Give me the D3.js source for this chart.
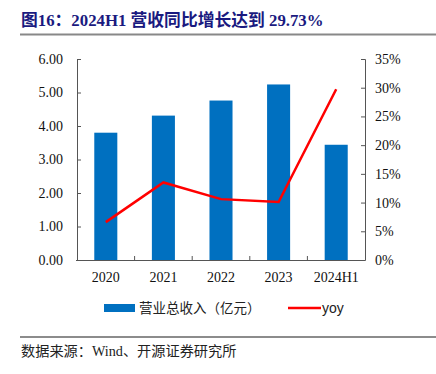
<!DOCTYPE html>
<html>
<head>
<meta charset="utf-8">
<script src="https://cdn.jsdelivr.net/npm/d3@7"></script>
<style>
  body { margin: 0; background: #fff; }
  svg { display: block; }
  .tick text { font-family: "Liberation Serif", "Times New Roman", serif; font-size: 14px; fill: #111; }
</style>
</head>
<body>
<div id="chart"></div>
<script>
// Data
const categories = ["2020", "2021", "2022", "2023", "2024H1"];
const revenue = [3.80, 4.31, 4.76, 5.24, 3.44];     // 营业总收入（亿元）
const yoy = [6.6, 13.5, 10.6, 10.1, 29.73];        // yoy, %
const leftTicks = [0, 1, 2, 3, 4, 5, 6];
const rightTicks = [0, 5, 10, 15, 20, 25, 30, 35];

const width = 436, height = 374;
const margin = { top: 59, right: 71, bottom: 114, left: 77 };

const svg = d3.select('#chart')
  .append('svg')
    .attr('width', width)
    .attr('height', height)
    .attr('viewBox', [0, 0, width, height]);

// Title and rule under it
svg.append('text')
    .attr('x', 21)
    .attr('y', 26)
    .attr('fill', '#1a1a80')
    .attr('font-family', '"Liberation Serif", "Noto Sans CJK SC", serif')
    .attr('font-weight', 'bold')
    .attr('font-size', 16.8)
    .text('图16：2024H1 营收同比增长达到 29.73%');

svg.append('line')
    .attr('x1', 20).attr('x2', width)
    .attr('y1', 34.5).attr('y2', 34.5)
    .attr('stroke', '#888')
    .attr('stroke-width', 2);

// Scales
const x = d3.scaleBand()
    .domain(categories)
    .range([margin.left, width - margin.right])
    .paddingInner(0.6)
    .paddingOuter(0.3);

const xStep = x.step();
const plotBottom = height - margin.bottom;

const yLeft = d3.scaleLinear()
    .domain([0, 6])
    .range([plotBottom, margin.top]);

const yRight = d3.scaleLinear()
    .domain([0, 35])
    .range([plotBottom, margin.top]);

// Bars
svg.append('g')
  .selectAll('rect')
  .data(revenue)
  .join('rect')
    .attr('x', (d, i) => x(categories[i]))
    .attr('y', d => yLeft(d))
    .attr('width', x.bandwidth())
    .attr('height', d => plotBottom - yLeft(d))
    .attr('fill', '#0070c0');

// Left axis
const leftAxis = svg.append('g')
    .attr('transform', `translate(${margin.left},0)`)
    .call(d3.axisLeft(yLeft).tickValues(leftTicks).tickFormat(d3.format('.2f')).tickSize(-4).tickPadding(14));
leftAxis.selectAll('path, line').attr('stroke', '#555');

// Right axis
const rightAxis = svg.append('g')
    .attr('transform', `translate(${width - margin.right},0)`)
    .call(d3.axisRight(yRight).tickValues(rightTicks).tickFormat(d => d + '%').tickSize(-4).tickPadding(10));
rightAxis.selectAll('path, line').attr('stroke', '#555');

// Bottom axis: baseline, inward ticks between categories, labels centred
const xAxisG = svg.append('g');
xAxisG.append('line')
    .attr('x1', margin.left - 1).attr('x2', width - margin.right)
    .attr('y1', plotBottom + 0.5).attr('y2', plotBottom + 0.5)
    .attr('stroke', '#555');
xAxisG.selectAll('.sep')
  .data(categories.slice(1))
  .join('line')
    .attr('class', 'sep')
    .attr('x1', d => x(d) - xStep * 0.3)
    .attr('x2', d => x(d) - xStep * 0.3)
    .attr('y1', plotBottom)
    .attr('y2', plotBottom - 4)
    .attr('stroke', '#555');
xAxisG.selectAll('.lbl')
  .data(categories)
  .join('text')
    .attr('class', 'lbl')
    .attr('x', d => x(d) + x.bandwidth() / 2)
    .attr('y', plotBottom + 22)
    .attr('text-anchor', 'middle')
    .attr('font-family', '"Liberation Serif", "Times New Roman", serif')
    .attr('font-size', 14)
    .attr('fill', '#111')
    .text(d => d);

// yoy line
const line = d3.line()
    .x((d, i) => x(categories[i]) + x.bandwidth() / 2)
    .y(d => yRight(d));

svg.append('path')
    .datum(yoy)
    .attr('d', line)
    .attr('fill', 'none')
    .attr('stroke', '#ff0000')
    .attr('stroke-width', 2.5);

// Legend
const legend = svg.append('g');
legend.append('rect')
    .attr('x', 104).attr('y', 304)
    .attr('width', 31).attr('height', 8)
    .attr('fill', '#0070c0');
legend.append('text')
    .attr('x', 139).attr('y', 313)
    .attr('font-family', '"Noto Sans CJK SC", sans-serif')
    .attr('font-size', 13.5)
    .attr('fill', '#222')
    .text('营业总收入（亿元）');
legend.append('line')
    .attr('x1', 288).attr('x2', 321)
    .attr('y1', 308).attr('y2', 308)
    .attr('stroke', '#ff0000')
    .attr('stroke-width', 2.5);
legend.append('text')
    .attr('x', 322).attr('y', 313)
    .attr('font-family', '"Liberation Sans", Arial, sans-serif')
    .attr('font-size', 14)
    .attr('fill', '#222')
    .text('yoy');

// Source rule and note
svg.append('line')
    .attr('x1', 20).attr('x2', width)
    .attr('y1', 337).attr('y2', 337)
    .attr('stroke', '#666')
    .attr('stroke-width', 1.5);

svg.append('text')
    .attr('x', 21).attr('y', 356)
    .attr('font-family', '"Liberation Serif", "Noto Sans CJK SC", serif')
    .attr('font-size', 14.2)
    .attr('fill', '#222')
    .text('数据来源：Wind、开源证券研究所');
</script>
</body>
</html>
